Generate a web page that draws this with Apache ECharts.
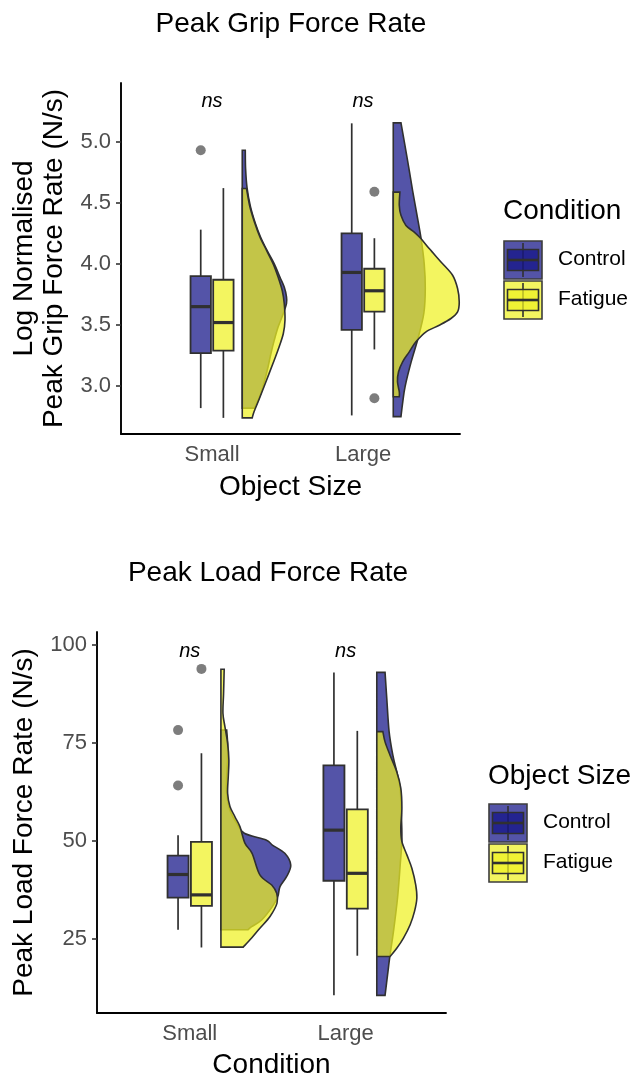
<!DOCTYPE html>
<html>
<head>
<meta charset="utf-8">
<script src="https://cdn.jsdelivr.net/npm/echarts@6/dist/echarts.min.js"></script>
<style>
  html, body { margin: 0; padding: 0; background: #ffffff; }
  #chart { width: 633px; height: 1079px; }
</style>
</head>
<body>
<div id="chart"></div>
<script>
// ---- categories and groups ----
const categories = ['Small', 'Large'];
const groups = ['Control', 'Fatigue'];

// ---- Peak Grip Force Rate (log normalised) ----
// box stats per category: [min, q1, median, q3, max]
const gripControlBox = [[2.82, 3.27, 3.65, 3.90, 4.28], [2.76, 3.46, 3.93, 4.25, 5.15]];
const gripFatigueBox = [[2.74, 3.29, 3.52, 3.87, 4.62], [3.30, 3.61, 3.78, 3.96, 4.21]];
// outliers: [category (1-based), value]
const gripControlOut = [[1, 4.93]];
const gripFatigueOut = [[2, 4.59], [2, 2.90]];
// half-violin density profiles: [value, width in category units]
const gripControlSmallDens = [[4.93, 0.020], [4.78, 0.022], [4.62, 0.032], [4.47, 0.054], [4.33, 0.087], [4.22, 0.121], [4.11, 0.164], [4.00, 0.212], [3.89, 0.250], [3.81, 0.278], [3.73, 0.293], [3.676, 0.293], [3.594, 0.272], [3.485, 0.238], [3.376, 0.212], [3.267, 0.190], [3.158, 0.171], [3.049, 0.149], [2.94, 0.123], [2.85, 0.093], [2.82, 0.079]];
const gripFatigueSmallDens = [[4.617, 0.028], [4.465, 0.051], [4.33, 0.084], [4.22, 0.117], [4.11, 0.161], [4.00, 0.205], [3.89, 0.238], [3.78, 0.265], [3.676, 0.278], [3.54, 0.283], [3.43, 0.272], [3.32, 0.244], [3.21, 0.211], [3.10, 0.177], [2.995, 0.144], [2.89, 0.111], [2.79, 0.078], [2.74, 0.066]];
const gripControlLargeDens = [[5.154, 0.051], [5.0, 0.073], [4.8, 0.101], [4.6, 0.128], [4.4, 0.157], [4.2, 0.185], [4.0, 0.205], [3.8, 0.212], [3.6, 0.203], [3.4, 0.166], [3.2, 0.119], [3.0, 0.079], [2.87, 0.063], [2.75, 0.051]];
const gripFatigueLargeDens = [[4.587, 0.044], [4.479, 0.040], [4.397, 0.051], [4.315, 0.084], [4.26, 0.139], [4.207, 0.183], [4.125, 0.238], [4.016, 0.316], [3.907, 0.393], [3.798, 0.426], [3.689, 0.437], [3.607, 0.426], [3.553, 0.382], [3.498, 0.305], [3.444, 0.217], [3.362, 0.150], [3.28, 0.106], [3.199, 0.062], [3.117, 0.035], [3.035, 0.028], [2.953, 0.040], [2.913, 0.040]];
const gripTicks = [3.0, 3.5, 4.0, 4.5, 5.0];

// ---- Peak Load Force Rate ----
const loadControlBox = [[27.3, 35.5, 41.4, 46.2, 51.4], [10.6, 39.8, 52.7, 69.2, 92.9]];
const loadFatigueBox = [[22.8, 33.4, 36.2, 49.7, 72.3], [20.7, 32.7, 41.7, 58.0, 78.0]];
const loadControlOut = [[1, 78.2], [1, 64.1]];
const loadFatigueOut = [[1, 93.8]];
const loadControlSmallDens = [[78.2, 0.037], [74.8, 0.043], [70.6, 0.043], [66.3, 0.037], [62.1, 0.037], [57.8, 0.058], [54.5, 0.101], [51.9, 0.150], [50.2, 0.290], [48.9, 0.330], [46.8, 0.410], [43.8, 0.448], [40.9, 0.422], [38.3, 0.379], [35.8, 0.365], [33.2, 0.330], [29.8, 0.261], [28.1, 0.197], [27.3, 0.173]];
const loadFatigueSmallDens = [[93.7, 0.021], [87.5, 0.017], [82.5, 0.013], [79.0, 0.026], [74.8, 0.043], [70.6, 0.051], [66.3, 0.047], [62.1, 0.043], [58.7, 0.058], [56.1, 0.090], [53.6, 0.122], [49.4, 0.154], [46.8, 0.200], [41.3, 0.250], [38.7, 0.326], [36.6, 0.358], [34.1, 0.360], [30.7, 0.315], [27.7, 0.250], [25.2, 0.197], [22.9, 0.143]];
const loadControlLargeDens = [[92.9, 0.053], [86.3, 0.064], [77.8, 0.079], [71.8, 0.103], [67.6, 0.128], [63.4, 0.150], [58.3, 0.156], [50.6, 0.161], [43.8, 0.150], [35.4, 0.133], [26.9, 0.107], [20.9, 0.085], [15.8, 0.069], [10.6, 0.053]];
const loadFatigueLargeDens = [[77.8, 0.039], [75.2, 0.053], [71.8, 0.085], [67.6, 0.128], [63.4, 0.154], [58.3, 0.161], [53.2, 0.154], [49.8, 0.161], [46.4, 0.193], [43.0, 0.225], [38.7, 0.250], [35.4, 0.257], [32.0, 0.242], [28.6, 0.214], [25.2, 0.171], [22.6, 0.128], [20.5, 0.085]];
const loadTicks = [25, 50, 75, 100];

// ---- styling ----
const FONT = "'Liberation Sans', Arial, sans-serif";
const FILL = {
  Control: 'rgba(18,18,134,0.72)',
  Fatigue: 'rgba(239,241,35,0.72)'
};
const OUTLINE = '#303030';
const BOX_OFFSET = { Control: -0.075, Fatigue: 0.075 };
const BOX_WIDTH = 0.135;
const VIOLIN_OFFSET = 0.2;

// smooth outline through pixel points, flat at base
function violinPath(baseX, pts) {
  const f = v => v.toFixed(2);
  let d = 'M' + f(baseX) + ',' + f(pts[0][1]) + ' L' + f(pts[0][0]) + ',' + f(pts[0][1]);
  for (let i = 0; i < pts.length - 1; i++) {
    const p0 = pts[i - 1] || pts[i];
    const p1 = pts[i];
    const p2 = pts[i + 1];
    const p3 = pts[i + 2] || pts[i + 1];
    const c1 = [p1[0] + (p2[0] - p0[0]) / 6, p1[1] + (p2[1] - p0[1]) / 6];
    const c2 = [p2[0] - (p3[0] - p1[0]) / 6, p2[1] - (p3[1] - p1[1]) / 6];
    d += ' C' + f(c1[0]) + ',' + f(c1[1]) + ' ' + f(c2[0]) + ',' + f(c2[1]) + ' ' + f(p2[0]) + ',' + f(p2[1]);
  }
  const last = pts[pts.length - 1];
  d += ' L' + f(baseX) + ',' + f(last[1]) + ' Z';
  return d;
}

function violinSeries(profile, cat, group, panel) {
  return {
    type: 'custom',
    xAxisIndex: panel, yAxisIndex: panel,
    data: profile,
    encode: { x: 1, y: 0 },
    silent: true,
    z: 2,
    renderItem: function (params, api) {
      if (params.dataIndex !== 0) return;
      const x0 = cat + VIOLIN_OFFSET;
      const base = api.coord([x0, profile[0][0]])[0];
      const pts = profile.map(p => api.coord([x0 + p[1], p[0]]));
      return {
        type: 'path',
        shape: { pathData: violinPath(base, pts) },
        style: { fill: FILL[group], stroke: OUTLINE, lineWidth: 1.6 }
      };
    }
  };
}

function boxSeries(stats, group, panel) {
  return {
    type: 'custom',
    xAxisIndex: panel, yAxisIndex: panel,
    data: stats.map((s, i) => [i + 1].concat(s)),
    encode: { x: 0, y: [1, 2, 3, 4, 5] },
    silent: true,
    z: 3,
    renderItem: function (params, api) {
      const c = api.value(0) + BOX_OFFSET[group];
      const lo = api.value(1), q1 = api.value(2), md = api.value(3), q3 = api.value(4), hi = api.value(5);
      const pL = api.coord([c - BOX_WIDTH / 2, q3]);
      const pR = api.coord([c + BOX_WIDTH / 2, q1]);
      const pMid = api.coord([c, md]);
      const pHi = api.coord([c, hi]);
      const pLo = api.coord([c, lo]);
      const lineStyle = { stroke: OUTLINE, lineWidth: 1.7 };
      return {
        type: 'group',
        children: [
          { type: 'line', shape: { x1: pHi[0], y1: pHi[1], x2: pHi[0], y2: pL[1] }, style: lineStyle },
          { type: 'line', shape: { x1: pLo[0], y1: pR[1], x2: pLo[0], y2: pLo[1] }, style: lineStyle },
          { type: 'rect', shape: { x: pL[0], y: pL[1], width: pR[0] - pL[0], height: pR[1] - pL[1] },
            style: { fill: FILL[group], stroke: OUTLINE, lineWidth: 1.8 } },
          { type: 'line', shape: { x1: pL[0], y1: pMid[1], x2: pR[0], y2: pMid[1] },
            style: { stroke: OUTLINE, lineWidth: 3.2 } }
        ]
      };
    }
  };
}

function outlierSeries(points, group, panel) {
  return {
    type: 'scatter',
    xAxisIndex: panel, yAxisIndex: panel,
    data: points.map(p => [p[0] + BOX_OFFSET[group], p[1]]),
    symbol: 'circle', symbolSize: 10,
    itemStyle: { color: '#5c5c5c' },
    silent: true,
    z: 4
  };
}

function nsSeries(yPos, panel) {
  return {
    type: 'custom',
    xAxisIndex: panel, yAxisIndex: panel,
    data: categories.map((c, i) => [i + 1, yPos]),
    silent: true,
    z: 5,
    renderItem: function (params, api) {
      const p = api.coord([api.value(0), api.value(1)]);
      return {
        type: 'text',
        x: p[0], y: p[1],
        style: { text: 'ns', fontSize: 20, fontStyle: 'italic', fontFamily: FONT,
                 fill: '#000', align: 'center', verticalAlign: 'middle' }
      };
    }
  };
}

function xAxisCfg(panel, min, max, name, gap) {
  return {
    gridIndex: panel, type: 'value', min: min, max: max,
    axisLine: { show: true, onZero: false, lineStyle: { color: '#000', width: 1.9 } },
    axisTick: { show: false },
    splitLine: { show: false },
    axisLabel: { customValues: [1, 2], formatter: v => categories[Math.round(v) - 1],
                 fontSize: 22, color: '#4d4d4d', fontFamily: FONT, margin: 10 },
    name: name, nameLocation: 'middle', nameGap: gap,
    nameTextStyle: { fontSize: 28, color: '#000', fontFamily: FONT }
  };
}

function yAxisCfg(panel, min, max, ticks, fmt, name, gap) {
  return {
    gridIndex: panel, type: 'value', min: min, max: max,
    axisLine: { show: true, onZero: false, lineStyle: { color: '#000', width: 1.9 } },
    axisTick: { show: true, customValues: ticks, length: 5, lineStyle: { color: '#333', width: 1.6 } },
    splitLine: { show: false },
    axisLabel: { customValues: ticks, formatter: fmt, fontSize: 22, color: '#4d4d4d',
                 fontFamily: FONT, margin: 10 },
    name: name, nameLocation: 'middle', nameGap: gap, nameRotate: 90,
    nameTextStyle: { fontSize: 28, color: '#000', fontFamily: FONT, lineHeight: 30, align: 'center' }
  };
}

// legend keys drawn as small box-and-violin glyphs
function legendGraphics(title, left, titleY, keyTop) {
  const els = [];
  els.push({ type: 'text', left: left, top: titleY - 15,
             style: { text: title, fontSize: 28, fontFamily: FONT, fill: '#000' } });
  groups.forEach((g, i) => {
    const y = keyTop + i * 40;
    const x = left + 1;
    els.push({ type: 'rect', shape: { x: x, y: y, width: 38, height: 38 },
               style: { fill: FILL[g], stroke: '#3c3c3c', lineWidth: 1.6 } });
    els.push({ type: 'line', shape: { x1: x + 19, y1: y + 2, x2: x + 19, y2: y + 36 },
               style: { stroke: OUTLINE, lineWidth: 1.6 } });
    els.push({ type: 'rect', shape: { x: x + 3.5, y: y + 8.5, width: 31, height: 21 },
               style: { fill: FILL[g], stroke: OUTLINE, lineWidth: 1.6 } });
    els.push({ type: 'line', shape: { x1: x + 3.5, y1: y + 19, x2: x + 34.5, y2: y + 19 },
               style: { stroke: OUTLINE, lineWidth: 2.6 } });
    els.push({ type: 'text', left: x + 54, top: y + 8,
               style: { text: g, fontSize: 21, fontFamily: FONT, fill: '#000' } });
  });
  return els;
}

const chart = echarts.init(document.getElementById('chart'), null, { renderer: 'canvas' });

chart.setOption({
  backgroundColor: '#ffffff',
  animation: false,
  title: [
    { text: 'Peak Grip Force Rate', left: 286, top: 5, textAlign: 'center',
      textStyle: { fontSize: 28, fontWeight: 'normal', color: '#000', fontFamily: FONT } },
    { text: 'Peak Load Force Rate', left: 263, top: 554, textAlign: 'center',
      textStyle: { fontSize: 28, fontWeight: 'normal', color: '#000', fontFamily: FONT } }
  ],
  grid: [
    { left: 121, top: 83, width: 339, height: 351, outerBoundsMode: 'none' },
    { left: 97, top: 632, width: 349, height: 381, outerBoundsMode: 'none' }
  ],
  xAxis: [
    xAxisCfg(0, 0.397, 2.642, 'Object Size', 39),
    xAxisCfg(1, 0.405, 2.644, 'Condition', 38)
  ],
  yAxis: [
    yAxisCfg(0, 2.608, 5.48, gripTicks, v => v.toFixed(1), 'Log Normalised\nPeak Grip Force Rate (N/s)', 49),
    yAxisCfg(1, 6.1, 103.2, loadTicks, v => String(v), 'Peak Load Force Rate (N/s)', 56)
  ],
  graphic: legendGraphics('Condition', 503, 212, 241).concat(legendGraphics('Object Size', 488, 777, 804)),
  series: [
    violinSeries(gripControlSmallDens, 1, 'Control', 0),
    violinSeries(gripControlLargeDens, 2, 'Control', 0),
    violinSeries(gripFatigueSmallDens, 1, 'Fatigue', 0),
    violinSeries(gripFatigueLargeDens, 2, 'Fatigue', 0),
    boxSeries(gripControlBox, 'Control', 0),
    boxSeries(gripFatigueBox, 'Fatigue', 0),
    outlierSeries(gripControlOut, 'Control', 0),
    outlierSeries(gripFatigueOut, 'Fatigue', 0),
    nsSeries(5.33, 0),

    violinSeries(loadControlSmallDens, 1, 'Control', 1),
    violinSeries(loadControlLargeDens, 2, 'Control', 1),
    violinSeries(loadFatigueSmallDens, 1, 'Fatigue', 1),
    violinSeries(loadFatigueLargeDens, 2, 'Fatigue', 1),
    boxSeries(loadControlBox, 'Control', 1),
    boxSeries(loadFatigueBox, 'Fatigue', 1),
    outlierSeries(loadControlOut, 'Control', 1),
    outlierSeries(loadFatigueOut, 'Fatigue', 1),
    nsSeries(98.3, 1)
  ]
});
</script>
</body>
</html>
